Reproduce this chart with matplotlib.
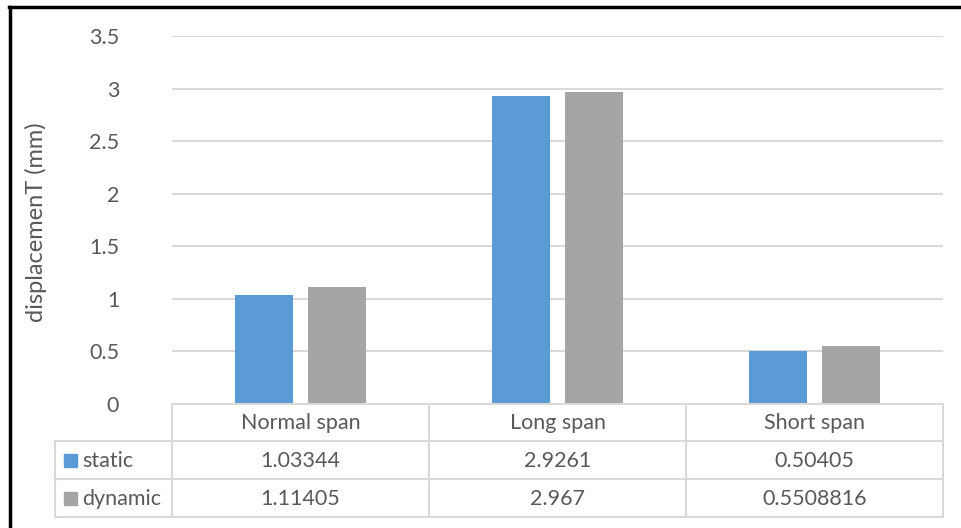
import matplotlib
matplotlib.use('Agg')
import matplotlib.pyplot as plt
from matplotlib.lines import Line2D
from matplotlib.patches import Rectangle

categories = ['Normal span', 'Long span', 'Short span']
static = [1.03344, 2.9261, 0.50405]
dynamic = [1.11405, 2.967, 0.5508816]
series_names = ['static', 'dynamic']
colors = ['#5B9BD5', '#A5A5A5']
yticks = [0, 0.5, 1, 1.5, 2, 2.5, 3, 3.5]

W, H = 961, 528
txt = '#595959'
grid = '#D9D9D9'
plt.rcParams['font.family'] = ['Lato', 'DejaVu Sans']
fs = 15.5

fig = plt.figure(figsize=(W / 100, H / 100), dpi=100)

def fx(x):
    return x / W

def fy(y):
    return 1 - y / H

ax = fig.add_axes([fx(172), fy(404), fx(943) - fx(172), fy(36) - fy(404)])
x = range(len(categories))
bw = 0.2257
ax.bar([i - 0.142 for i in x], static, bw, color=colors[0], zorder=3)
ax.bar([i + 0.142 for i in x], dynamic, bw, color=colors[1], zorder=3)
ax.set_xlim(-0.5, len(categories) - 0.5)
ax.set_ylim(0, 3.5)
ax.set_yticks(yticks)
ax.set_yticklabels([('%g' % t) for t in yticks], fontsize=fs, color=txt)
ax.set_xticks([])
ax.tick_params(axis='y', length=0, pad=38)
ax.grid(axis='y', color=grid, linewidth=1.5, zorder=0)
for s in ax.spines.values():
    s.set_visible(False)

# y label placed in figure coords
fig.text(fx(36), fy(222), 'displacemenT (mm)', rotation=90, ha='center', va='center',
         fontsize=17, color=txt)

# data table below the axes
def hline(y, x0, x1):
    fig.add_artist(Line2D([fx(x0), fx(x1)], [fy(y), fy(y)], color=grid, lw=1.5))

def vline(x0, y0, y1):
    fig.add_artist(Line2D([fx(x0), fx(x0)], [fy(y0), fy(y1)], color=grid, lw=1.5))

cols = [172, 429, 686, 943]
hline(404, 172, 943)
for yy in [441, 479, 517]:
    hline(yy, 55, 943)
vline(55, 441, 517)
for cx in cols:
    vline(cx, 404, 517)

for i, c in enumerate(categories):
    fig.text(fx((cols[i] + cols[i + 1]) / 2), fy(423), c, ha='center', va='center',
             fontsize=fs, color=txt)

rows = [static, dynamic]
row_y = [461, 499]
for r, vals in enumerate(rows):
    yc = row_y[r]
    fig.add_artist(Rectangle((fx(64), fy(yc + 6)), fx(13), fy(yc - 7) - fy(yc + 6),
                             color=colors[r], transform=fig.transFigure))
    fig.text(fx(82), fy(yc), series_names[r], ha='left', va='center', fontsize=fs, color=txt)
    for i, v in enumerate(vals):
        fig.text(fx((cols[i] + cols[i + 1]) / 2), fy(yc), str(v), ha='center', va='center',
                 fontsize=fs, color=txt)

# black frame on top and left
fig.add_artist(Line2D([fx(9), fx(961)], [fy(7), fy(7)], color='black', lw=2.5))
fig.add_artist(Line2D([fx(10), fx(10)], [fy(7), fy(528)], color='black', lw=2.5))

fig.savefig('out.png', dpi=100)
